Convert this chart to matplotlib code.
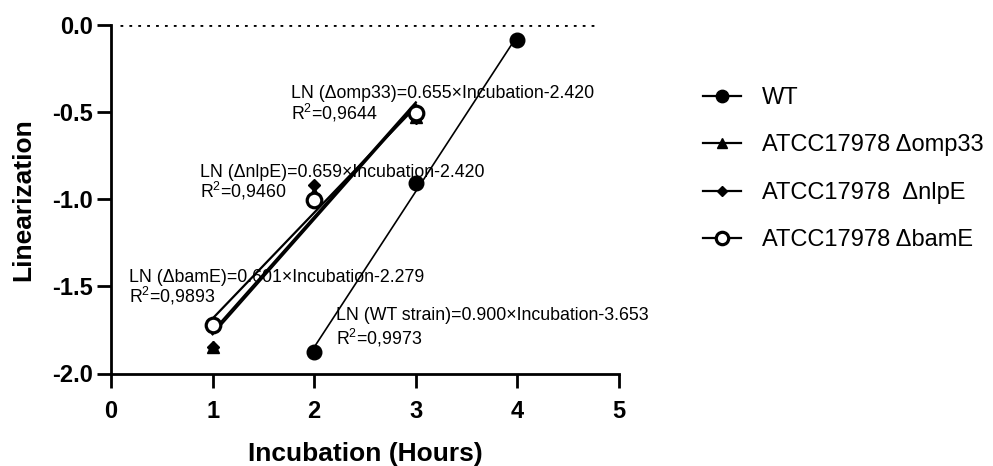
import numpy as np
import matplotlib
matplotlib.use("Agg")
import matplotlib.pyplot as plt
from matplotlib.lines import Line2D

plt.rcParams['font.family'] = ['Liberation Sans', 'DejaVu Sans']
plt.rcParams['mathtext.fontset'] = 'custom'
plt.rcParams['mathtext.rm'] = 'Liberation Sans'
plt.rcParams['mathtext.it'] = 'Liberation Sans'

# ---- data ----
x_wt = [2, 3, 4]
y_wt = [-1.874, -0.905, -0.086]
x_mut = [1, 2, 3]
y_omp33 = [-1.85, -0.965, -0.53]
y_nlpe = [-1.85, -0.92, -0.535]
y_bame = [-1.72, -1.006, -0.505]

labels = ["WT", "ATCC17978 \u0394omp33", "ATCC17978  \u0394nlpE", "ATCC17978 \u0394bamE"]
eq_texts = [
    "LN (WT strain)=0.900\u00d7Incubation-3.653",
    "LN (\u0394omp33)=0.655\u00d7Incubation-2.420",
    "LN (\u0394nlpE)=0.659\u00d7Incubation-2.420",
    "LN (\u0394bamE)=0.601\u00d7Incubation-2.279",
]
r2_texts = ["R$^2$=0,9973", "R$^2$=0,9644", "R$^2$=0,9460", "R$^2$=0,9893"]
x_ticks = [0, 1, 2, 3, 4, 5]
y_ticks = [0.0, -0.5, -1.0, -1.5, -2.0]

fig = plt.figure(figsize=(9.93, 4.66), dpi=100)
ax = fig.add_axes([111/993, 1-373.5/466, (619-111)/993, (373.5-25)/466])

series = [
    (x_wt, y_wt, dict(marker='o', ms=10.5, mfc='black', mec='black'), 1.2),
    (x_mut, y_omp33, dict(marker='^', ms=8, mfc='black', mec='black'), 1.6),
    (x_mut, y_nlpe, dict(marker='D', ms=6.5, mfc='black', mec='black'), 1.6),
    (x_mut, y_bame, dict(marker='o', ms=10.5, mfc='white', mec='black', mew=2.3), 1.6),
]

# fit lines
for xs, ys, mk, lw in series:
    p = np.polyfit(xs, ys, 1)
    xx = np.array([min(xs), max(xs)])
    ax.plot(xx, np.polyval(p, xx), color='black', lw=lw, zorder=2)
for xs, ys, mk, lw in series:
    ax.plot(xs, ys, ls='none', zorder=3, clip_on=False, **mk)

# zero dotted line
ax.plot([0.09, 4.75], [0, 0], color='black', lw=2.0, ls=(0, (1, 2.2)), zorder=1)

# annotations (data coords)
ann_pos = [(2.215, -1.693, -1.836), (1.77, -0.419, -0.545), (0.876, -0.87, -0.99), (0.177, -1.475, -1.595)]
for (tx, ty1, ty2), e, r in zip(ann_pos, eq_texts, r2_texts):
    ax.text(tx, ty1, e, fontsize=12.8, va='baseline', ha='left')
    ax.text(tx, ty2, r, fontsize=12.8, va='baseline', ha='left')

ax.set_xlim(0, 5)
ax.set_ylim(-2, 0)
ax.set_xticks(x_ticks)
ax.set_yticks(y_ticks)
ax.set_yticklabels([f"{v:.1f}" for v in y_ticks])
for s in ['top', 'right']:
    ax.spines[s].set_visible(False)
for s in ['left', 'bottom']:
    ax.spines[s].set_linewidth(2.0)
ax.tick_params(axis='both', direction='out', length=10, width=2.0)
ax.tick_params(axis='x', pad=9)
ax.tick_params(axis='y', pad=3)
for lab in ax.get_xticklabels() + ax.get_yticklabels():
    lab.set_fontsize(17)
    lab.set_fontweight('bold')

ax.set_xlabel("Incubation (Hours)", fontsize=19, fontweight='bold', labelpad=14)
ax.set_ylabel("Linearization", fontsize=19, fontweight='bold', labelpad=12)

handles = []
for xs, ys, mk, lw in series:
    m = dict(mk)
    m['ms'] = m['ms'] * 0.85
    handles.append(Line2D([], [], color='black', lw=1.6, **m))
leg = ax.legend(handles, labels, loc='upper left', bbox_to_anchor=(703/993, 1-87/466),
                bbox_transform=fig.transFigure, frameon=False, fontsize=17,
                handlelength=1.6, handletextpad=0.9, labelspacing=1.08,
                borderpad=0, borderaxespad=0)

fig.savefig("out.png", dpi=100)
